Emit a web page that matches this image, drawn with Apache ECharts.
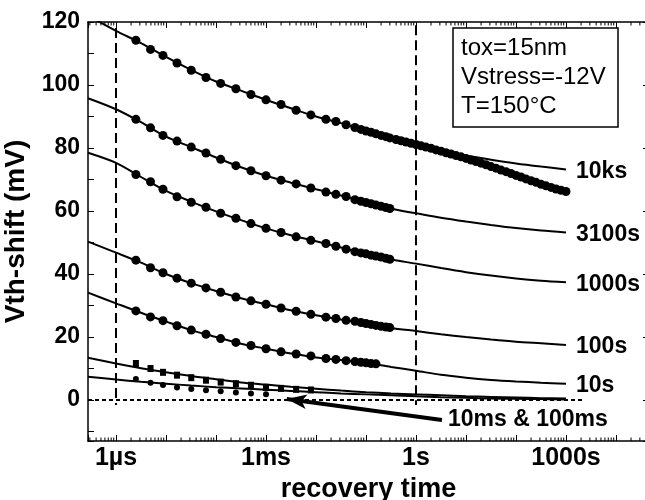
<!DOCTYPE html>
<html>
<head>
<meta charset="utf-8">
<script src="https://cdn.jsdelivr.net/npm/echarts@6/dist/echarts.min.js"></script>
<style>
html, body { margin: 0; padding: 0; background: #fff; }
#main { width: 645px; height: 500px; }
</style>
</head>
<body>
<div id="main"></div>
<script>
// recovery time (s) of the measured points
var tDots = [2.5e-6, 4.9e-6, 8.7e-6, 1.66e-5, 3.2e-5, 6.3e-5, 1.24e-4, 2.5e-4, 5e-4, 1e-3,
  2e-3, 4e-3, 7.9e-3, 1.58e-2, 0.025, 0.04, 0.06, 0.079, 0.1, 0.126, 0.158, 0.2, 0.25, 0.3];
// the 10ks measurement goes on up to 1000s
var tDense = [0.398, 0.501, 0.631, 0.794, 1, 1.26, 1.58, 2, 2.51, 3.16, 3.98, 5.01, 6.31, 7.94,
  10, 12.6, 15.8, 20, 25.1, 31.6, 39.8, 50.1, 63.1, 79.4, 100, 126, 158, 200, 251, 316, 398,
  501, 631, 794, 1000];
// times where the fitted curves are given
var tFit = [2.754e-7, 1e-6, 3.16e-6, 1e-5, 3.16e-5, 1e-4, 3.16e-4, 1e-3, 3.16e-3, 1e-2,
  3.16e-2, 0.1, 0.316, 1, 3.16, 10, 31.6, 100, 316, 1000];

// Vth-shift (mV), measured
var dots10ks = [114.2, 111.3, 109.4, 107.0, 104.7, 102.4, 100.5, 98.8, 97.0, 95.3, 93.8, 92.0,
  90.5, 89.1, 88.4, 87.4, 86.5, 85.9, 85.4, 85.0, 84.5, 84.0, 83.6, 83.2,
  82.7, 82.3, 81.9, 81.5, 81.1, 80.7, 80.3, 79.9, 79.4, 79.0, 78.5, 78.1, 77.6, 77.2, 76.7,
  76.2, 75.7, 75.2, 74.7, 74.1, 73.6, 73.0, 72.5, 71.9, 71.3, 70.8, 70.2, 69.6, 69.1, 68.5,
  68.0, 67.5, 67.0, 66.6, 66.2];
var dots3100 = [89.1, 86.4, 84.0, 82.2, 80.3, 78.4, 76.4, 74.4, 72.8, 71.2, 69.8, 68.6, 67.3,
  66.0, 65.3, 64.6, 63.6, 63.1, 62.7, 62.3, 61.9, 61.5, 61.1, 60.8];
var dots1000 = [71.6, 69.3, 66.9, 64.5, 62.8, 61.2, 59.3, 57.7, 56.0, 54.5, 53.2, 51.8, 50.7,
  49.7, 48.8, 47.9, 47.1, 46.7, 46.4, 46.0, 45.7, 45.4, 45.0, 44.7];
var dots100 = [44.4, 42.0, 40.4, 38.7, 37.1, 35.6, 34.2, 32.7, 31.5, 30.4, 29.2, 28.2, 27.2,
  26.3, 25.9, 25.3, 25.0, 24.6, 24.3, 24.0, 23.7, 23.4, 23.2, 23.0];
var dots10 = [28.3, 26.4, 25.2, 23.6, 22.2, 20.9, 19.5, 18.3, 17.3, 16.3, 15.3, 14.6, 14.0,
  13.2, 12.9, 12.5, 12.2, 12.0, 11.8, 11.6, 11.5];
var sq100ms = [11.6, 10.0, 8.8, 7.9, 7.1, 6.3, 5.7, 5.2, 4.7, 4.0, 3.7, 3.4, 3.2];
var dots10ms = [6.7, 5.5, 4.8, 4.0, 3.5, 3.1, 2.8, 2.4, 2.1, 1.8];

// Vth-shift (mV), fitted curves at tFit
var fit10ks = [122.0, 117.2, 113.3, 108.9, 104.8, 101.1, 98.2, 95.3, 92.6, 90.0, 87.9, 85.4,
  83.1, 81.2, 79.2, 77.6, 76.3, 75.1, 74.1, 73.2];
var fit3100 = [95.8, 92.3, 88.2, 83.6, 80.3, 77.0, 73.9, 71.2, 69.0, 66.9, 64.9, 62.7, 60.7,
  59.3, 57.9, 56.7, 55.6, 54.6, 53.8, 53.2];
var fit1000 = [78.5, 75.3, 70.8, 66.4, 63.0, 59.9, 57.1, 54.5, 52.3, 50.4, 48.4, 46.4, 44.6,
  43.3, 41.9, 40.6, 39.5, 38.6, 37.9, 37.4];
var fit100 = [50.3, 46.8, 43.6, 40.0, 37.1, 34.6, 32.3, 30.4, 28.5, 26.9, 25.6, 24.3, 22.9,
  21.9, 20.9, 20.0, 19.2, 18.5, 18.0, 17.5];
var fit10 = [34.1, 30.7, 27.7, 24.9, 22.2, 20.0, 17.9, 16.3, 14.8, 13.5, 12.7, 11.8, 10.5,
  9.3, 8.0, 7.1, 6.4, 5.9, 5.5, 5.2];
var fit100ms = [13.4, 11.6, 10.1, 8.8, 7.6, 6.6, 5.6, 4.9, 4.2, 3.6, 3.0, 2.5, 2.1, 1.8, 1.5,
  1.2, 1.0, 0.8, 0.6, 0.5];
var fit10ms = [7.4, 6.5, 5.8, 5.2, 4.6, 4.1, 3.7, 3.3, 2.9, 2.5, 2.1, 1.8, 1.5, 1.2, 0.9, 0.7,
  0.5, 0.4, 0.3, 0.2];

var xTickLabels = { '-6': '1µs', '-3': '1ms', '0': '1s', '3': '1000s' };
var infoLines = ['tox=15nm', 'Vstress=-12V', 'T=150°C'];

var xMin = 2.754e-7, xMax = 4.57e4;
var yMin = -13, yMax = 120;
var FONT = '"Liberation Sans", Arial, sans-serif';

function pairs(ts, vs) {
  return vs.map(function (v, i) { return [ts[i], v]; });
}

// minor ticks 2..9 of every decade
var minorTicks = [];
for (var n = -7; n <= 4; n++) {
  for (var k = 2; k <= 9; k++) {
    var t = k * Math.pow(10, n);
    if (t > xMin && t < xMax) minorTicks.push([t, 0]);
  }
}

function fitLine(name, vals, withLabel) {
  return {
    name: name, type: 'line', xAxisIndex: 0, yAxisIndex: 0,
    data: pairs(tFit, vals), showSymbol: false, smooth: 0.3,
    lineStyle: { color: '#000', width: 2 },
    endLabel: {
      show: withLabel, formatter: '{a}', distance: 10, offset: [0, 2],
      fontSize: 23, fontWeight: 'bold', color: '#000', fontFamily: FONT
    },
    z: 3
  };
}

function dotSeries(ts, vals, symbol, size) {
  return {
    type: 'scatter', xAxisIndex: 0, yAxisIndex: 0,
    data: pairs(ts, vals), symbol: symbol, symbolSize: size,
    itemStyle: { color: '#000', opacity: 1 }, z: 4
  };
}

var axisLineStyle = { show: true, onZero: false, lineStyle: { color: '#000', width: 1.5 } };
var tickStyle = { show: true, inside: true, length: 6, lineStyle: { color: '#000', width: 1 } };

var tickAxis = {
  type: 'value', min: Math.log10(xMin), max: Math.log10(xMax), splitNumber: 11,
  axisLine: axisLineStyle, axisTick: tickStyle, splitLine: { show: false }
};

var chart = echarts.init(document.getElementById('main'));
chart.setOption({
  animation: false,
  backgroundColor: '#fff',
  grid: { left: 88, top: 22, right: -4, bottom: 59, containLabel: false, outerBoundsMode: 'none' },
  xAxis: [
    { type: 'log', min: xMin, max: xMax, position: 'bottom', show: false },
    Object.assign({}, tickAxis, {
      position: 'bottom',
      name: 'recovery time', nameLocation: 'middle', nameGap: 26,
      nameTextStyle: { fontSize: 27, fontWeight: 'bold', color: '#000', fontFamily: FONT },
      axisLabel: {
        margin: 5, fontSize: 25, fontWeight: 'bold', color: '#000', fontFamily: FONT,
        formatter: function (v) {
          var r = Math.round(v);
          if (Math.abs(v - r) > 1e-6) return '';
          return xTickLabels[r] || '';
        }
      }
    }),
    Object.assign({}, tickAxis, { position: 'top', axisLabel: { show: false } })
  ],
  yAxis: [
    {
      type: 'value', min: yMin, max: yMax, splitNumber: 13, position: 'left',
      name: 'Vth-shift (mV)', nameLocation: 'middle', nameGap: 49, nameRotate: 90,
      nameTextStyle: { fontSize: 28, fontWeight: 'bold', color: '#000', fontFamily: FONT },
      axisLine: axisLineStyle, axisTick: tickStyle, splitLine: { show: false },
      axisLabel: {
        margin: 8, fontSize: 23, fontWeight: 'bold', color: '#000', fontFamily: FONT,
        formatter: function (v) { return (Math.abs(v % 20) < 1e-6) ? String(v) : ''; }
      }
    },
    {
      type: 'value', min: yMin, max: yMax, splitNumber: 7, position: 'right',
      axisLine: axisLineStyle, axisTick: tickStyle,
      splitLine: { show: false }, axisLabel: { show: false }
    }
  ],
  series: [
    {
      type: 'custom', xAxisIndex: 0, yAxisIndex: 0, silent: true, clip: false, z: 6,
      data: minorTicks,
      renderItem: function (params, api) {
        var b = api.coord([api.value(0), yMin]);
        var tp = api.coord([api.value(0), yMax]);
        return {
          type: 'group', children: [
            { type: 'line', shape: { x1: b[0], y1: b[1], x2: b[0], y2: b[1] - 3.5 }, style: { stroke: '#000', lineWidth: 1 } },
            { type: 'line', shape: { x1: tp[0], y1: tp[1], x2: tp[0], y2: tp[1] + 3.5 }, style: { stroke: '#000', lineWidth: 1 } }
          ]
        };
      },
      markLine: {
        silent: true, symbol: ['none', 'none'], label: { show: false },
        lineStyle: { color: '#000', width: 2, type: [10, 5] },
        data: [
          [{ coord: [1e-6, 118.1] }, { coord: [1e-6, -1.6] }],
          [{ coord: [1, 119] }, { coord: [1, -1.6] }],
          [{ coord: [xMin, 0], lineStyle: { type: [4, 3], width: 1.8 } }, { coord: [2090, 0] }],
          [{ coord: [3.3, -6.35], symbol: 'none', lineStyle: { type: 'solid', width: 4 } },
           { coord: [2.6e-3, 0.3], symbol: 'arrow', symbolSize: [11, 20] }]
        ]
      }
    },
    fitLine('10ks', fit10ks, true),
    fitLine('3100s', fit3100, true),
    fitLine('1000s', fit1000, true),
    fitLine('100s', fit100, true),
    fitLine('10s', fit10, true),
    fitLine('100ms', fit100ms, false),
    fitLine('10ms', fit10ms, false),
    dotSeries(tDots.concat(tDense), dots10ks, 'circle', 9),
    dotSeries(tDots, dots3100, 'circle', 9),
    dotSeries(tDots, dots1000, 'circle', 9),
    dotSeries(tDots, dots100, 'circle', 9),
    dotSeries(tDots, dots10, 'circle', 9),
    dotSeries(tDots, sq100ms, 'rect', [6, 7]),
    dotSeries(tDots, dots10ms, 'circle', 6)
  ],
  graphic: [
    { type: 'rect', shape: { x: 453, y: 28, width: 165, height: 99 }, style: { fill: '#fff', stroke: '#000', lineWidth: 1.5 }, z: 10 },
    { type: 'text', x: 461, y: 48, z: 11, style: { text: infoLines[0], font: '24px ' + FONT, fill: '#000', verticalAlign: 'middle' } },
    { type: 'text', x: 461, y: 77, z: 11, style: { text: infoLines[1], font: '24px ' + FONT, fill: '#000', verticalAlign: 'middle' } },
    { type: 'text', x: 461, y: 106, z: 11, style: { text: infoLines[2], font: '24px ' + FONT, fill: '#000', verticalAlign: 'middle' } },
    { type: 'text', x: 448, y: 420, z: 11, style: { text: '10ms & 100ms', font: 'bold 23px ' + FONT, fill: '#000', verticalAlign: 'middle' } }
  ]
});
</script>
</body>
</html>
